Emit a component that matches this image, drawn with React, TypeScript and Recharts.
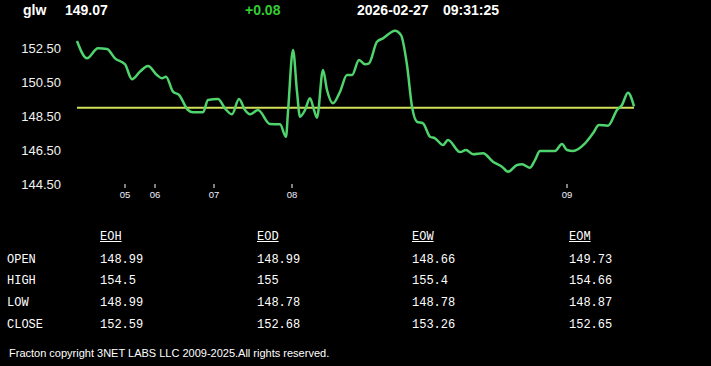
import React from 'react';
import { LineChart, Line, XAxis, YAxis, ReferenceLine } from 'recharts';

// sample position along the session and the traded price at that sample
const samples = [
  0, 10, 21, 30, 38, 48, 55, 63, 71, 80, 85, 89, 96, 102, 111, 116, 126, 131, 141, 148,
  155, 162, 168, 173, 181, 193, 203, 209, 211, 216, 220, 223, 228, 233, 237, 240, 246, 250,
  256, 263, 270, 275, 282, 288, 292, 300, 306, 318, 324, 330, 335, 340, 346, 353, 358, 366,
  371, 383, 389, 396, 406, 416, 425, 431, 440, 445, 453, 458, 463, 478, 485, 490, 496, 508,
  516, 522, 531, 540, 545, 551, 557,
];
const prices = [
  152.91, 151.89, 152.48, 152.44, 151.89, 151.54, 150.66, 151.11, 151.44, 150.91, 150.72,
  150.81, 149.93, 149.74, 148.85, 148.72, 148.72, 149.44, 149.5, 148.95, 148.6, 149.5,
  148.85, 148.6, 148.85, 148.03, 148.01, 147.28, 148.75, 152.38, 149.93, 148.46, 148.85,
  149.54, 148.85, 148.4, 151.21, 150.03, 149.25, 149.93, 150.91, 150.91, 151.79, 151.54,
  151.6, 152.87, 153.07, 153.52, 153.26, 151.5, 149.05, 148.16, 148.07, 147.28, 147.19,
  146.79, 147.09, 146.38, 146.5, 146.25, 146.31, 145.81, 145.52, 145.22, 145.62, 145.66,
  145.46, 145.91, 146.44, 146.44, 146.85, 146.5, 146.44, 146.89, 147.48, 147.97, 147.93,
  148.85, 149.15, 149.87, 149.07,
];
const hourTicks = [48, 78, 137, 215, 490];
const hourLabels = ['05', '06', '07', '08', '09'];
const priceTicks = [144.5, 146.5, 148.5, 150.5, 152.5];
const openPrice = 148.99;

const periods = ['EOH', 'EOD', 'EOW', 'EOM'];
const rowNames = ['OPEN', 'HIGH', 'LOW', 'CLOSE'];
const opens = ['148.99', '148.99', '148.66', '149.73'];
const highs = ['154.5', '155', '155.4', '154.66'];
const lows = ['148.99', '148.78', '148.78', '148.87'];
const closes = ['152.59', '152.68', '153.26', '152.65'];

const data = samples.map((t, i) => ({ t, price: prices[i] }));
const rows = [opens, highs, lows, closes];

const colX = [100, 257, 412, 569];
const rowTop = [253, 274, 296, 318];

const mono: React.CSSProperties = {
  position: 'absolute',
  fontFamily: '"Liberation Mono", "DejaVu Sans Mono", monospace',
  fontSize: 12,
  lineHeight: '14px',
  color: '#ffffff',
  whiteSpace: 'pre',
};

const head: React.CSSProperties = {
  position: 'absolute',
  top: 2,
  fontFamily: '"Liberation Sans", Arial, sans-serif',
  fontSize: 14,
  fontWeight: 'bold',
  lineHeight: '16px',
  color: '#ffffff',
  whiteSpace: 'pre',
};

const App = () => {
  return (
    <div
      style={{
        position: 'fixed',
        left: 0,
        top: 0,
        width: 711,
        height: 366,
        background: '#000000',
        overflow: 'hidden',
      }}
    >
      <span style={{ ...head, left: 23 }}>glw</span>
      <span style={{ ...head, left: 65 }}>149.07</span>
      <span style={{ ...head, left: 245, color: '#33cc33' }}>+0.08</span>
      <span style={{ ...head, left: 357 }}>2026-02-27</span>
      <span style={{ ...head, left: 443 }}>09:31:25</span>

      <div style={{ position: 'absolute', left: 0, top: 0 }}>
        <LineChart width={711} height={214} data={data} margin={{ top: 14, right: 77, bottom: 0, left: 0 }}>
          <XAxis
            dataKey="t"
            type="number"
            domain={[0, 557]}
            ticks={hourTicks}
            interval={0}
            tickFormatter={(v) => hourLabels[hourTicks.indexOf(v)]}
            axisLine={false}
            tickLine={{ stroke: '#ffffff' }}
            tickSize={4}
            tickMargin={3}
            height={30}
            tick={{ fill: '#f0f0ff', fontSize: 9.5, fontFamily: '"Liberation Sans", Arial, sans-serif' }}
          />
          <YAxis
            type="number"
            domain={[144.5, 154.5]}
            ticks={priceTicks}
            interval={0}
            tickFormatter={(v) => v.toFixed(2)}
            axisLine={false}
            tickLine={false}
            tickSize={0}
            tickMargin={16}
            width={77}
            tick={{ fill: '#f2f2f2', fontSize: 13, fontFamily: '"Liberation Sans", Arial, sans-serif' }}
          />
          <ReferenceLine y={openPrice} stroke="#d2df58" strokeWidth={2} />
          <Line
            type="monotone"
            dataKey="price"
            stroke="#4fd36c"
            strokeWidth={2.5}
            dot={false}
            isAnimationActive={false}
          />
        </LineChart>
      </div>

      {periods.map((p, i) => (
        <span key={p} style={{ ...mono, left: colX[i], top: 230, textDecoration: 'underline' }}>
          {p}
        </span>
      ))}
      {rowNames.map((name, r) => (
        <React.Fragment key={name}>
          <span style={{ ...mono, left: 7, top: rowTop[r] }}>{name}</span>
          {rows[r].map((val, c) => (
            <span key={c} style={{ ...mono, left: colX[c], top: rowTop[r] }}>
              {val}
            </span>
          ))}
        </React.Fragment>
      ))}

      <span
        style={{
          position: 'absolute',
          left: 9,
          top: 347,
          fontFamily: '"Liberation Sans", Arial, sans-serif',
          fontSize: 11,
          lineHeight: '13px',
          color: '#ffffff',
          whiteSpace: 'pre',
        }}
      >
        Fracton copyright 3NET LABS LLC 2009-2025.All rights reserved.
      </span>
    </div>
  );
};

export default App;
